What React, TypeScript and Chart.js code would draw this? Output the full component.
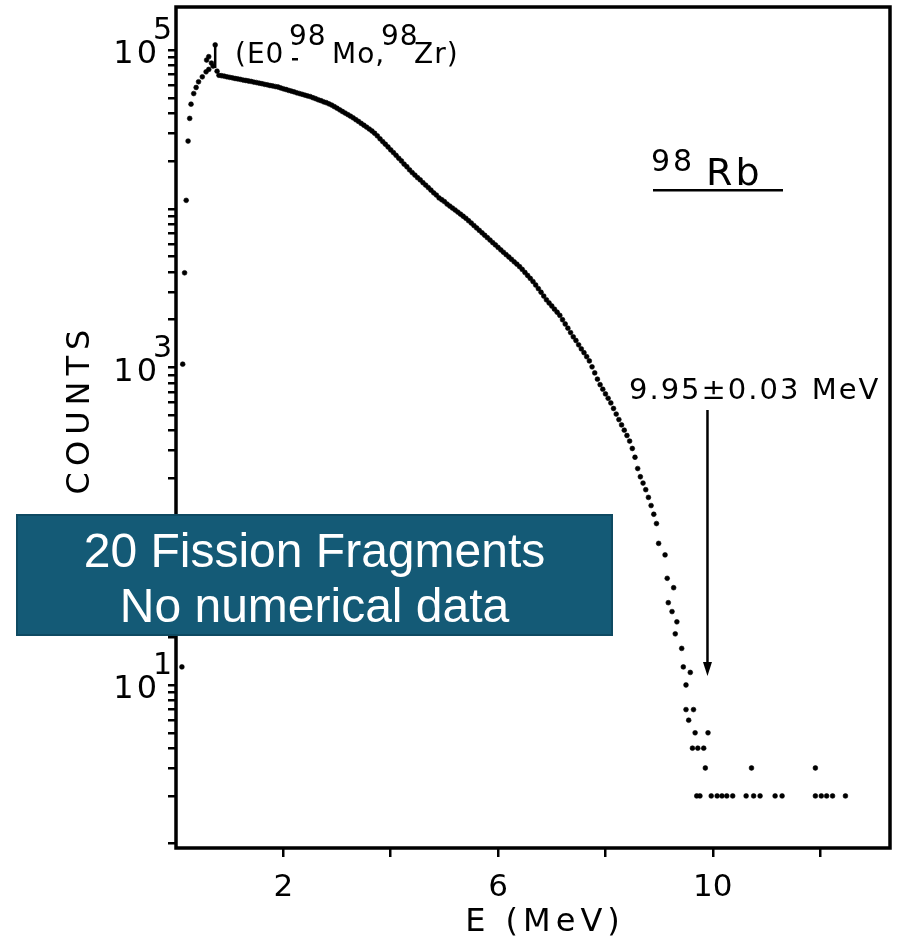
import React, { useEffect, useRef } from 'react';
import { Chart, registerables } from 'chart.js';

Chart.register(...registerables);

// ---------- data ----------
// Dense part of the spectrum: regular channels from 0.80 MeV in 0.05 MeV steps
const MAIN_E_START = 0.8;
const MAIN_E_STEP = 0.05;
const mainCounts = [
  69300, 68900, 68400, 67800, 67300, 66800, 66200, 65800, 65300, 64700,
  64300, 63800, 63400, 62800, 62400, 61800, 61400, 60800, 60400, 59800,
  59400, 58900, 58500, 57700, 57000, 56400, 55700, 55100, 54500, 53800,
  53200, 52600, 52000, 51400, 50900, 50100, 49400, 48600, 48000, 47200,
  46600, 45800, 45000, 44000, 43000, 42000, 41000, 40100, 39200, 38300,
  37400, 36400, 35500, 34500, 33600, 32700, 31800, 30900, 29900, 28800,
  27600, 26500, 25500, 24500, 23500, 22600, 21700, 20800, 20000, 19100,
  18400, 17600, 16900, 16300, 15700, 15200, 14600, 14100, 13600, 13100,
  12600, 12200, 11700, 11400, 11100, 10700, 10400, 10100, 9820, 9530,
  9250, 8970, 8710, 8410, 8130, 7840, 7570, 7310, 7060, 6810,
  6580, 6350, 6120, 5920, 5710, 5510, 5320, 5140, 4970, 4800,
  4630, 4480, 4320, 4150, 3970, 3800, 3640, 3480, 3310, 3140,
  2980, 2820, 2670, 2550, 2440, 2330, 2230, 2130, 2000, 1880,
  1770, 1660, 1560, 1480, 1390, 1310, 1240, 1170, 1100, 1010,
  925, 845, 780, 730, 682, 640, 598, 552, 509, 470,
  435, 403, 373, 344, 309, 272, 231, 205, 187, 170,
  152, 135, 119, 104,
];

// Low-energy rise
const riseEnergies = [0.11, 0.125, 0.16, 0.19, 0.225, 0.255, 0.28, 0.33, 0.375, 0.42, 0.49, 0.56, 0.61];
const riseCounts = [13, 1050, 3950, 11300, 26700, 37100, 45600, 53200, 58100, 63100, 67800, 72900, 75500];

// Peak cluster (E0 98Mo, 98Zr)
const peakEnergies = [0.57, 0.61, 0.66, 0.69, 0.73, 0.765];
const peakCounts = [86500, 90800, 82800, 79300, 107700, 73600];
const eoMarkerEnergies = [0.73, 0.73];
const eoMarkerCounts = [77000, 107700];

// Sparse high-energy tail
const tailEnergies = [
  8.99, 9.11, 9.15, 9.17, 9.24, 9.27, 9.30, 9.33, 9.42, 9.45,
  9.50, 9.50, 9.55, 9.58, 9.62, 9.64, 9.67, 9.70, 9.72, 9.76,
  9.83, 9.86, 9.91, 9.97, 10.08, 10.17, 10.26, 10.37, 10.62, 10.72,
  10.76, 10.88, 11.16, 11.29, 11.91, 11.91, 12.02, 12.12, 12.23, 12.47,
];
const tailCounts = [
  78, 66, 47, 33, 29, 41, 21, 25, 17, 13,
  10, 7, 6, 12, 4, 7, 5, 2, 4, 2,
  4, 3, 5, 2, 2, 2, 2, 2, 2, 3,
  2, 2, 2, 2, 3, 2, 2, 2, 2, 2,
];

// Axes
const X_MIN = 0;
const X_MAX = 13.3;
const Y_MIN = 0.94;
const Y_MAX = 186700;
const xTickValues = [2, 4, 6, 8, 10, 12];
const xTickLabels = ['2', '', '6', '', '10', ''];
const yDecades = [1, 10, 100, 1000, 10000];
const yMantissas = [2, 3, 4, 5, 6, 7, 8, 9];
const yTopTick = 100000;
const yLabelExponents = [1, 3, 5];

// Arrow annotation (9.95 ± 0.03 MeV endpoint)
const arrowEnergy = 9.9;
const arrowTopCount = 540;
const arrowTipCount = 11.4;

const FONT = '"DejaVu Sans", sans-serif';

function setSpacing(ctx: CanvasRenderingContext2D, px: number) {
  (ctx as any).letterSpacing = px + 'px';
}

const overlayPlugin = {
  id: 'overlay',
  afterDraw(chart: any) {
    const ctx: CanvasRenderingContext2D = chart.ctx;
    const { left, top, right, bottom } = chart.chartArea;
    const xs = chart.scales.x;
    const ys = chart.scales.y;
    ctx.save();

    // frame
    ctx.strokeStyle = '#000';
    ctx.lineWidth = 3.5;
    ctx.strokeRect(left, top, right - left, bottom - top);

    ctx.fillStyle = '#000';
    ctx.textBaseline = 'alphabetic';

    // y labels 10^n
    for (const e of yLabelExponents) {
      const y = ys.getPixelForValue(Math.pow(10, e));
      ctx.font = '32px ' + FONT;
      setSpacing(ctx, 3);
      ctx.textAlign = 'right';
      ctx.fillText('10', left - 16, y + 13);
      setSpacing(ctx, 0);
      ctx.textAlign = 'left';
      ctx.font = '30px ' + FONT;
      ctx.fillText(String(e), left - 23, y - 11);
    }

    // COUNTS
    ctx.save();
    ctx.translate(89, 412);
    ctx.rotate(-Math.PI / 2);
    ctx.font = '32px ' + FONT;
    setSpacing(ctx, 6);
    ctx.textAlign = 'center';
    ctx.fillText('COUNTS', 3, 0);
    ctx.restore();

    // E (MeV)
    ctx.font = '32px ' + FONT;
    setSpacing(ctx, 5);
    ctx.textAlign = 'center';
    ctx.fillText('E (MeV)', 545, 931);

    // (E0 98Mo, 98Zr)
    setSpacing(ctx, 1);
    ctx.textAlign = 'left';
    ctx.font = '28px ' + FONT;
    ctx.fillText('(E0', 235, 63);
    ctx.fillRect(292, 58, 6, 2.5);
    ctx.fillText('98', 289, 45);
    ctx.fillText('Mo,', 332, 63);
    ctx.fillText('98', 381, 45);
    ctx.fillText('Zr)', 414, 63);

    // 98Rb
    ctx.font = '30px ' + FONT;
    setSpacing(ctx, 3);
    ctx.fillText('98', 651, 171);
    ctx.font = '38px ' + FONT;
    setSpacing(ctx, 3);
    ctx.fillText('Rb', 706, 185);
    ctx.fillRect(653, 189, 130, 2.5);

    // 9.95 ± 0.03 MeV
    ctx.font = '29px ' + FONT;
    setSpacing(ctx, 2);
    ctx.fillText('9.95\u00B10.03 MeV', 629, 399);
    setSpacing(ctx, 0);

    // arrow
    const ax = xs.getPixelForValue(arrowEnergy);
    const ay1 = ys.getPixelForValue(arrowTopCount);
    const ay2 = ys.getPixelForValue(arrowTipCount);
    ctx.lineWidth = 2.5;
    ctx.beginPath();
    ctx.moveTo(ax, ay1);
    ctx.lineTo(ax, ay2 - 8);
    ctx.stroke();
    ctx.beginPath();
    ctx.moveTo(ax, ay2);
    ctx.lineTo(ax - 4.5, ay2 - 14);
    ctx.lineTo(ax + 4.5, ay2 - 14);
    ctx.closePath();
    ctx.fill();

    // overlay box
    ctx.fillStyle = '#145a76';
    ctx.fillRect(17, 515, 595, 120);
    ctx.strokeStyle = '#0e4a62';
    ctx.lineWidth = 2;
    ctx.strokeRect(17, 515, 595, 120);
    ctx.fillStyle = '#ffffff';
    ctx.font = '48px "Liberation Sans", Arial, sans-serif';
    ctx.textAlign = 'center';
    ctx.fillText('20 Fission Fragments', 314.5, 567);
    ctx.fillText('No numerical data', 314.5, 622);

    ctx.restore();
  },
};

export default function App() {
  const canvasRef = useRef<HTMLCanvasElement | null>(null);

  useEffect(() => {
    if (!canvasRef.current) return;

    const points: { x: number; y: number }[] = [];
    riseEnergies.forEach((e, i) => points.push({ x: e, y: riseCounts[i] }));
    peakEnergies.forEach((e, i) => points.push({ x: e, y: peakCounts[i] }));
    mainCounts.forEach((c, i) => points.push({ x: MAIN_E_START + i * MAIN_E_STEP, y: c }));
    tailEnergies.forEach((e, i) => points.push({ x: e, y: tailCounts[i] }));

    const marker = eoMarkerEnergies.map((e, i) => ({ x: e, y: eoMarkerCounts[i] }));

    const yTicks: number[] = [];
    yDecades.forEach((d) => {
      yTicks.push(d);
      yMantissas.forEach((m) => yTicks.push(m * d));
    });
    yTicks.push(yTopTick);

    const chart = new Chart(canvasRef.current, {
      type: 'scatter',
      data: {
        datasets: [
          {
            label: 'counts',
            data: points,
            pointRadius: 2.4,
            pointBackgroundColor: '#000',
            pointBorderColor: '#000',
            pointBorderWidth: 0.6,
            showLine: false,
          },
          {
            label: 'E0 marker',
            data: marker,
            showLine: true,
            borderColor: '#000',
            borderWidth: 2.5,
            pointRadius: 0,
          },
        ],
      },
      options: {
        animation: false,
        responsive: false,
        devicePixelRatio: 1,
        layout: { padding: { top: 7, right: 9, left: 0, bottom: 0 } },
        plugins: { legend: { display: false }, tooltip: { enabled: false } },
        scales: {
          x: {
            type: 'linear',
            min: X_MIN,
            max: X_MAX,
            afterBuildTicks: (scale: any) => {
              scale.ticks = xTickValues.map((v) => ({ value: v }));
            },
            afterFit: (scale: any) => {
              scale.height = 93;
            },
            ticks: {
              autoSkip: false,
              maxRotation: 0,
              color: '#000',
              padding: 12,
              font: { family: 'DejaVu Sans', size: 31 },
              callback: (v: any) => {
                const i = xTickValues.indexOf(Number(v));
                return i >= 0 ? xTickLabels[i] : '';
              },
            },
            grid: {
              display: true,
              drawOnChartArea: false,
              drawTicks: true,
              tickLength: 9,
              color: '#000',
              lineWidth: 2.5,
            },
            border: { display: false },
          },
          y: {
            type: 'logarithmic',
            min: Y_MIN,
            max: Y_MAX,
            afterBuildTicks: (scale: any) => {
              scale.ticks = yTicks.map((v) => ({ value: v }));
            },
            afterFit: (scale: any) => {
              scale.width = 176;
            },
            ticks: { display: false, autoSkip: false },
            grid: {
              display: true,
              drawOnChartArea: false,
              drawTicks: true,
              tickLength: 8,
              color: '#000',
              lineWidth: 2.5,
            },
            border: { display: false },
          },
        },
      },
      plugins: [overlayPlugin],
    } as any);

    return () => chart.destroy();
  }, []);

  return (
    <div style={{ position: 'fixed', left: 0, top: 0, width: 899, height: 941, background: '#fff' }}>
      <canvas ref={canvasRef} width={899} height={941} style={{ display: 'block' }} />
    </div>
  );
}
